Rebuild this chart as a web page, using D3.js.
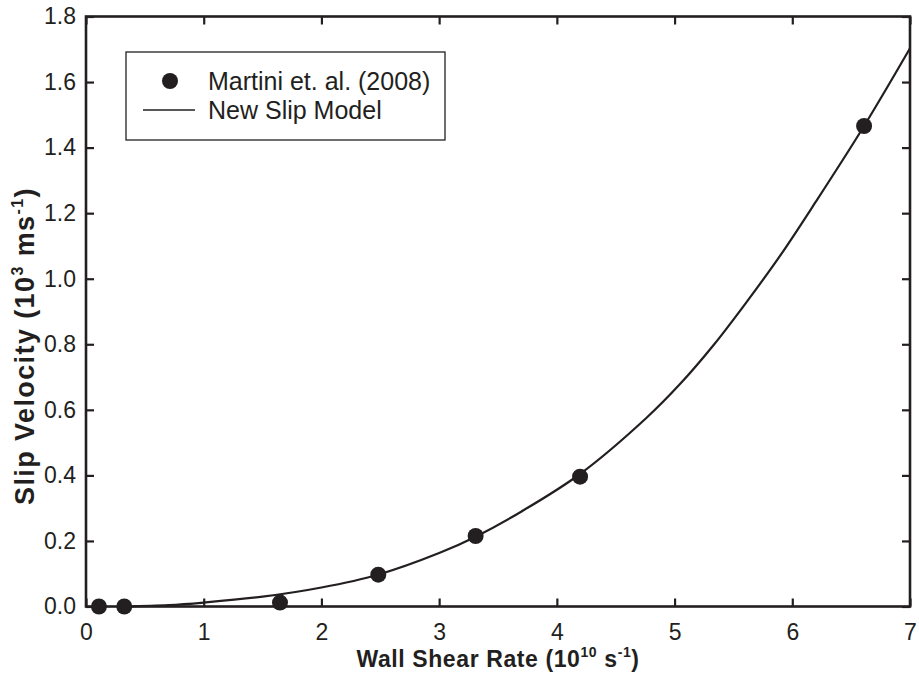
<!DOCTYPE html>
<html><head><meta charset="utf-8">
<script src="https://cdn.jsdelivr.net/npm/d3@7"></script>
<style>
body{margin:0;background:#fff;}
text{font-family:"Liberation Sans",Arial,sans-serif;fill:#231f20;}
</style></head>
<body><svg id="c" width="919" height="681"></svg>
<script>
// Data
const expX = [0.11, 0.325, 1.648, 2.483, 3.31, 4.197, 6.61];
const expY = [0.0, 0.0, 0.012, 0.097, 0.215, 0.396, 1.466];
const modelX = [0.33, 0.7, 1.0, 1.5, 2.0, 2.48, 3.0, 3.31, 3.7, 4.2, 4.76, 5.05, 5.33, 5.61, 5.9, 6.2, 6.61, 7.0];
const modelY = [0.0, 0.004, 0.012, 0.03, 0.058, 0.097, 0.163, 0.213, 0.29, 0.405, 0.575, 0.68, 0.797, 0.928, 1.072, 1.235, 1.466, 1.703];
const xTicks = [0, 1, 2, 3, 4, 5, 6, 7];
const yTicks = [0.0, 0.2, 0.4, 0.6, 0.8, 1.0, 1.2, 1.4, 1.6, 1.8];
const legendLabels = ["Martini et. al. (2008)", "New Slip Model"];

const svg = d3.select("#c");
const L = 86, T = 16.5, W = 824, H = 590;
const x = d3.scaleLinear().domain([0, 7]).range([L, L + W]);
const y = d3.scaleLinear().domain([0, 1.8]).range([T + H, T]);
const ink = "#231f20";

// model curve
const line = d3.line().x((d, i) => x(modelX[i])).y((d, i) => y(modelY[i])).curve(d3.curveCatmullRom.alpha(0.5));
svg.append("path").datum(modelX).attr("d", line).attr("fill", "none").attr("stroke", ink).attr("stroke-width", 2.2);

// points
svg.selectAll("circle.pt").data(expX).join("circle").attr("class", "pt")
  .attr("cx", (d) => x(d)).attr("cy", (d, i) => y(expY[i])).attr("r", 8).attr("fill", ink);

// axes (ticks inward)
const fmtY = d3.format(".1f");
const gB = svg.append("g").attr("transform", `translate(0,${T + H})`)
  .call(d3.axisBottom(x).tickValues(xTicks).tickSizeInner(-8).tickSizeOuter(0).tickPadding(17).tickFormat(d3.format("d")));
const gL = svg.append("g").attr("transform", `translate(${L},0)`)
  .call(d3.axisLeft(y).tickValues(yTicks).tickSizeInner(-8).tickSizeOuter(0).tickPadding(10).tickFormat(fmtY));
const gT = svg.append("g").attr("transform", `translate(0,${T})`)
  .call(d3.axisTop(x).tickValues(xTicks).tickSizeInner(-8).tickSizeOuter(0).tickFormat(""));
const gR = svg.append("g").attr("transform", `translate(${L + W},0)`)
  .call(d3.axisRight(y).tickValues(yTicks).tickSizeInner(-8).tickSizeOuter(0).tickFormat(""));
[gB, gL, gT, gR].forEach(g => {
  g.select(".domain").remove();
  g.selectAll(".tick line").attr("stroke", ink).attr("stroke-width", 2.2);
  g.selectAll(".tick text").attr("font-size", 23).attr("fill", ink).attr("font-family", "Liberation Sans, Arial, sans-serif");
});
gB.selectAll(".tick text").attr("dy", "0.71em");

// frame
svg.append("rect").attr("x", L).attr("y", T).attr("width", W).attr("height", H)
  .attr("fill", "none").attr("stroke", ink).attr("stroke-width", 2.6);

// axis titles
const xt = svg.append("text").attr("x", 498).attr("y", 667).attr("text-anchor", "middle")
  .attr("font-size", 23).attr("font-weight", "bold").attr("letter-spacing", 0.6);
xt.append("tspan").text("Wall Shear Rate (10");
xt.append("tspan").attr("font-size", 14).attr("dy", -10).text("10");
xt.append("tspan").attr("dy", 10).text(" s");
xt.append("tspan").attr("font-size", 14).attr("dy", -10).text("-1");
xt.append("tspan").attr("dy", 10).text(")");

const yt = svg.append("text").attr("transform", `translate(34,${346}) rotate(-90)`).attr("text-anchor", "middle")
  .attr("font-size", 27).attr("font-weight", "bold").attr("letter-spacing", 1.4);
yt.append("tspan").text("Slip Velocity (10");
yt.append("tspan").attr("font-size", 16).attr("dy", -11).text("3");
yt.append("tspan").attr("dy", 11).text(" ms");
yt.append("tspan").attr("font-size", 16).attr("dy", -11).text("-1");
yt.append("tspan").attr("dy", 11).text(")");

// legend
const lg = svg.append("g");
lg.append("rect").attr("x", 126).attr("y", 52).attr("width", 319).attr("height", 88)
  .attr("fill", "#fff").attr("stroke", ink).attr("stroke-width", 1.3);
lg.append("circle").attr("cx", 170).attr("cy", 81).attr("r", 8).attr("fill", ink);
lg.append("line").attr("x1", 143).attr("x2", 195).attr("y1", 110).attr("y2", 110).attr("stroke", ink).attr("stroke-width", 1.6);
lg.selectAll("text.lg").data(legendLabels).join("text").attr("class", "lg")
  .attr("x", 208).attr("y", (d, i) => 90 + i * 29).attr("font-size", 25).text(d => d);
</script></body></html>
